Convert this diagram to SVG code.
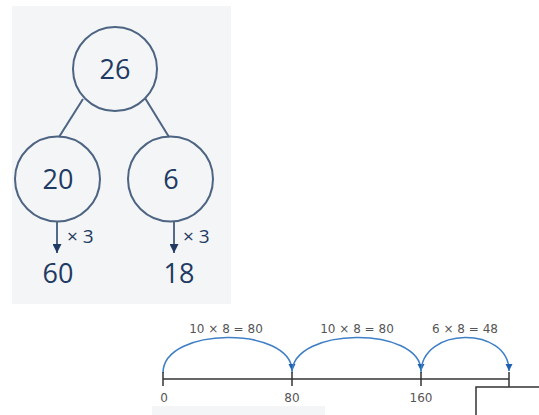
<svg xmlns="http://www.w3.org/2000/svg" width="539" height="415" viewBox="0 0 539 415">
<style>
.node{fill:none;stroke:#4d6483;stroke-width:2}
.edge{stroke:#4d6483;stroke-width:2;fill:none}
.num{font-family:"Open Sans","Liberation Sans",sans-serif;font-size:27px;fill:#1f3a63;text-anchor:middle}
.op{font-family:"Open Sans","Liberation Sans",sans-serif;font-size:19px;fill:#1f3a63}
.nl{stroke:#333;stroke-width:1.5;fill:none}
.arc{stroke:#3f7fc6;stroke-width:1.5;fill:none}
.lbl{font-family:"DejaVu Sans","Liberation Sans",sans-serif;font-size:12px;fill:#555;text-anchor:middle}
</style>
<defs>
<marker id="ah" viewBox="0 0 10 10" refX="10" refY="5" markerWidth="6" markerHeight="6" orient="auto"><path d="M0,0 L10,5 L0,10 z" fill="#1f3a63"/></marker>
<marker id="bh" viewBox="0 0 10 10" refX="10" refY="5" markerWidth="5" markerHeight="5" orient="auto"><path d="M0,0 L10,5 L0,10 z" fill="#1f5fb0"/></marker>
</defs>
<rect x="12" y="6" width="219" height="298" fill="#f3f5f6"/>
<rect x="152" y="406" width="173" height="9" fill="#f3f5f6"/>
<g id="connectors">
<line class="edge" x1="83" y1="99" x2="59" y2="137"/>
<line class="edge" x1="145" y1="98" x2="169" y2="137"/>
<line x1="57" y1="221" x2="57" y2="253" stroke="#1f3a63" stroke-width="1.5" marker-end="url(#ah)"/>
<line x1="174" y1="221" x2="174" y2="253" stroke="#1f3a63" stroke-width="1.5" marker-end="url(#ah)"/>
<path class="arc" d="M163,373 C163,326 292,326 292,371" marker-end="url(#bh)"/>
<path class="arc" d="M292,373 C292,326 421,326 421,371" marker-end="url(#bh)"/>
<path class="arc" d="M421,373 C421,326 509,326 509,371" marker-end="url(#bh)"/>
</g>
<g id="node-26"><circle class="node" cx="115" cy="69" r="42"/><text class="num" x="115" y="79">26</text></g>
<g id="node-20"><circle class="node" cx="57.5" cy="179" r="42.5"/><text class="num" x="58" y="189">20</text></g>
<g id="node-6"><circle class="node" cx="170.5" cy="179" r="42.5"/><text class="num" x="171" y="189">6</text></g>
<g id="node-60"><text class="num" x="58" y="283">60</text></g>
<g id="node-18"><text class="num" x="179" y="283">18</text></g>
<text class="op" x="67" y="243">× 3</text>
<text class="op" x="183" y="243">× 3</text>
<g id="numberline">
<line class="nl" x1="163" y1="379" x2="509" y2="379"/>
<line class="nl" x1="163" y1="372" x2="163" y2="386"/>
<line class="nl" x1="292" y1="372" x2="292" y2="386"/>
<line class="nl" x1="421" y1="372" x2="421" y2="386"/>
<line class="nl" x1="509" y1="372" x2="509" y2="387"/>
<path class="nl" d="M539,387 L476,387 L476,415"/>
<text class="lbl" x="164" y="402">0</text>
<text class="lbl" x="292" y="402">80</text>
<text class="lbl" x="421" y="402">160</text>
<text class="lbl" x="226" y="333">10 × 8 = 80</text>
<text class="lbl" x="357" y="333">10 × 8 = 80</text>
<text class="lbl" x="465" y="333">6 × 8 = 48</text>
</g>
</svg>
